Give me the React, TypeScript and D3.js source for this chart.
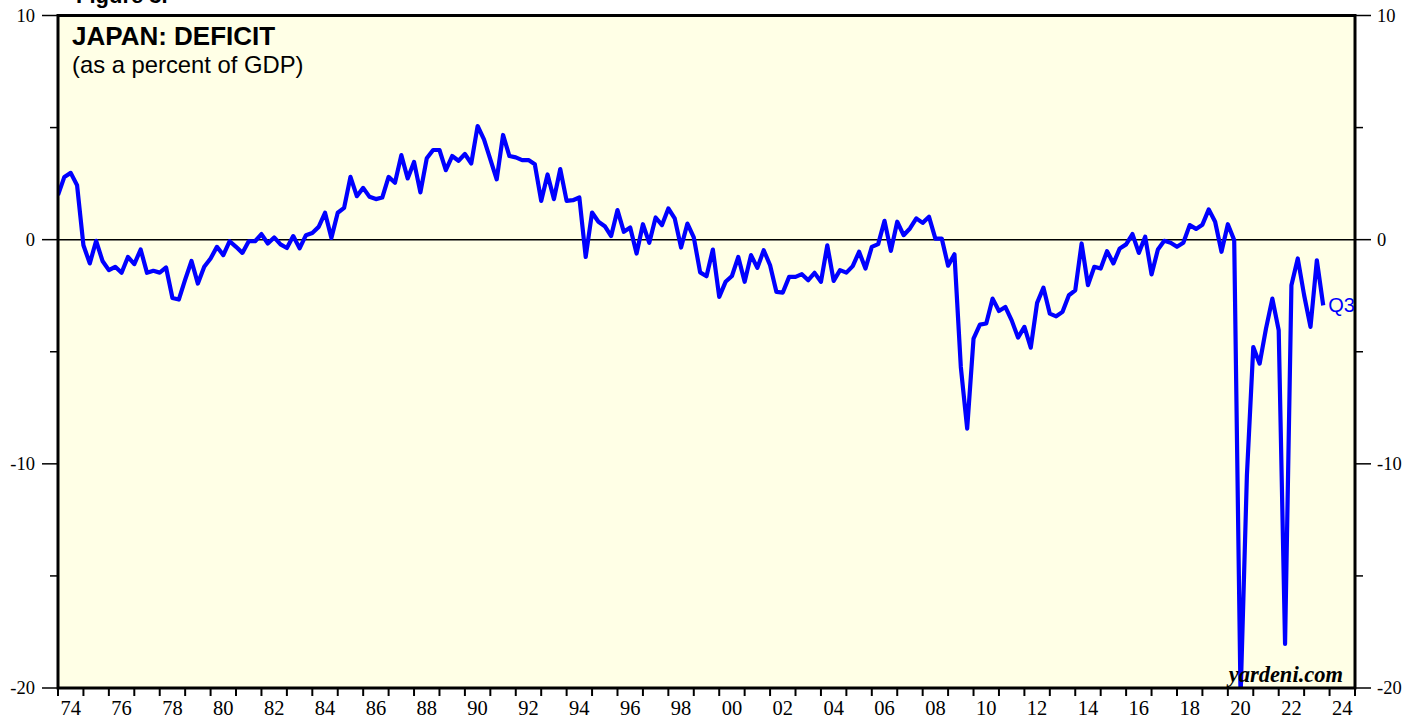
import React from "react";
import * as d3 from "d3";

// Quarterly Japan deficit (% of GDP), plotted at end of quarter, first point = 1973 Q4 (1974.0)
const START_YEAR = 1973;
const START_QUARTER = 4;
const deficitValues: number[] = [
  1.99, 2.80, 2.98, 2.43, -0.25, -1.06, -0.05, -0.95, -1.36, -1.21,
  -1.48, -0.77, -1.09, -0.44, -1.48, -1.39, -1.47, -1.24, -2.60, -2.67,
  -1.78, -0.95, -1.96, -1.21, -0.84, -0.32, -0.69, -0.07, -0.32, -0.59,
  -0.07, -0.07, 0.25, -0.17, 0.10, -0.21, -0.37, 0.16, -0.39, 0.20,
  0.30, 0.57, 1.20, 0.08, 1.20, 1.42, 2.80, 1.94, 2.31, 1.91,
  1.81, 1.88, 2.80, 2.54, 3.77, 2.73, 3.47, 2.11, 3.63, 4.00,
  4.00, 3.10, 3.73, 3.52, 3.82, 3.40, 5.07, 4.47, 3.58, 2.69,
  4.67, 3.73, 3.67, 3.55, 3.55, 3.36, 1.73, 2.91, 1.81, 3.15,
  1.73, 1.76, 1.88, -0.77, 1.21, 0.80, 0.60, 0.16, 1.32, 0.35,
  0.54, -0.62, 0.69, -0.14, 0.99, 0.65, 1.39, 0.95, -0.35, 0.72,
  0.10, -1.46, -1.63, -0.44, -2.55, -1.88, -1.62, -0.77, -1.88, -0.69,
  -1.26, -0.47, -1.14, -2.33, -2.36, -1.66, -1.66, -1.54, -1.81, -1.48,
  -1.88, -0.25, -1.84, -1.36, -1.47, -1.18, -0.54, -1.29, -0.32, -0.20,
  0.84, -0.50, 0.80, 0.20, 0.50, 0.95, 0.75, 1.02, 0.05, 0.05,
  -1.16, -0.65, -5.68, -8.43, -4.41, -3.79, -3.74, -2.63, -3.18, -3.00,
  -3.60, -4.37, -3.89, -4.82, -2.82, -2.14, -3.30, -3.42, -3.22, -2.48,
  -2.26, -0.17, -2.03, -1.21, -1.29, -0.51, -1.06, -0.39, -0.21, 0.25,
  -0.59, 0.13, -1.55, -0.44, -0.05, -0.14, -0.32, -0.14, 0.65, 0.48,
  0.67, 1.35, 0.80, -0.54, 0.69, -0.02, -20.4, -10.5, -4.79, -5.53,
  -3.97, -2.63, -4.04, -18.03, -2.03, -0.84, -2.48, -3.89, -0.92, -2.93,
];

const yTickValues = [10, 0, -10, -20];
const yMinorTicks = [5, -5, -15];
const xYearTicks = d3.range(1974, 2026);
const xLabelYears = d3.range(1974, 2025, 2);

const W = 1419;
const H = 719;
const L = 58, R = 1355, T = 15.5, B = 688;

export default function App() {
  const x = d3.scaleLinear().domain([1974, 2025]).range([L, R]);
  const y = d3.scaleLinear().domain([-20, 10]).range([B, T]);

  const data = deficitValues.map((v, i) => {
    const t = START_YEAR + (START_QUARTER + i) / 4;
    return { t, v };
  });

  const line = d3
    .line<{ t: number; v: number }>()
    .x((d) => x(d.t))
    .y((d) => y(d.v));

  const last = data[data.length - 1];
  const serif = "'Liberation Serif', 'Times New Roman', Times, serif";
  const sans = "'Liberation Sans', Arial, Helvetica, sans-serif";

  return (
    <div style={{ position: "absolute", left: 0, top: 0 }}>
      <svg width={W} height={H} style={{ display: "block", background: "#fff" }}>
        <defs>
          <clipPath id="plotClip">
            <rect x={L} y={T} width={R - L} height={B - T} />
          </clipPath>
        </defs>
        <text x={76} y={3} fontFamily={sans} fontWeight="bold" fontSize={22} fill="#000">
          Figure 3.
        </text>
        <rect x={L} y={T} width={R - L} height={B - T} fill="#FFFFE6" />
        <line x1={L} x2={R} y1={y(0)} y2={y(0)} stroke="#000" strokeWidth={1.5} />
        <path
          d={line(data) || ""}
          fill="none"
          stroke="#0000FF"
          strokeWidth={4.2}
          strokeLinejoin="round"
          clipPath="url(#plotClip)"
        />
        <rect x={L} y={T} width={R - L} height={B - T} fill="none" stroke="#000" strokeWidth={3} />
        {yTickValues.map((v) => (
          <g key={"yt" + v}>
            <line x1={L - 16} x2={L} y1={y(v)} y2={y(v)} stroke="#000" strokeWidth={1.5} />
            <line x1={R} x2={R + 16} y1={y(v)} y2={y(v)} stroke="#000" strokeWidth={1.5} />
            <text x={35} y={y(v)} dy="0.35em" textAnchor="end" fontFamily={serif} fontSize={18.5} fill="#000">
              {v}
            </text>
            <text x={1377} y={y(v)} dy="0.35em" textAnchor="start" fontFamily={serif} fontSize={18.5} fill="#000">
              {v}
            </text>
          </g>
        ))}
        {yMinorTicks.map((v) => (
          <g key={"ym" + v}>
            <line x1={L - 8} x2={L} y1={y(v)} y2={y(v)} stroke="#000" strokeWidth={1.5} />
            <line x1={R} x2={R + 8} y1={y(v)} y2={y(v)} stroke="#000" strokeWidth={1.5} />
          </g>
        ))}
        {xYearTicks.map((yr) => (
          <line key={"xt" + yr} x1={x(yr)} x2={x(yr)} y1={B} y2={B + 8} stroke="#000" strokeWidth={2} />
        ))}
        {xLabelYears.map((yr) => (
          <text
            key={"xl" + yr}
            x={x(yr + 0.5)}
            y={715}
            textAnchor="middle"
            fontFamily={serif}
            fontSize={20.5}
            fill="#000"
          >
            {String(yr % 100).padStart(2, "0")}
          </text>
        ))}
        <text x={72} y={45} fontFamily={sans} fontWeight="bold" fontSize={26} fill="#000">
          JAPAN: DEFICIT
        </text>
        <text x={72} y={72.5} fontFamily={sans} fontSize={23.8} fill="#000">
          (as a percent of GDP)
        </text>
        <text x={x(last.t) + 5} y={y(last.v)} dy="0.35em" fontFamily={sans} fontSize={20} fill="#0000FF">
          Q3
        </text>
        <text
          x={1343}
          y={682}
          textAnchor="end"
          fontFamily={serif}
          fontWeight="bold"
          fontStyle="italic"
          fontSize={22.5}
          fill="#000"
        >
          yardeni.com
        </text>
      </svg>
    </div>
  );
}
